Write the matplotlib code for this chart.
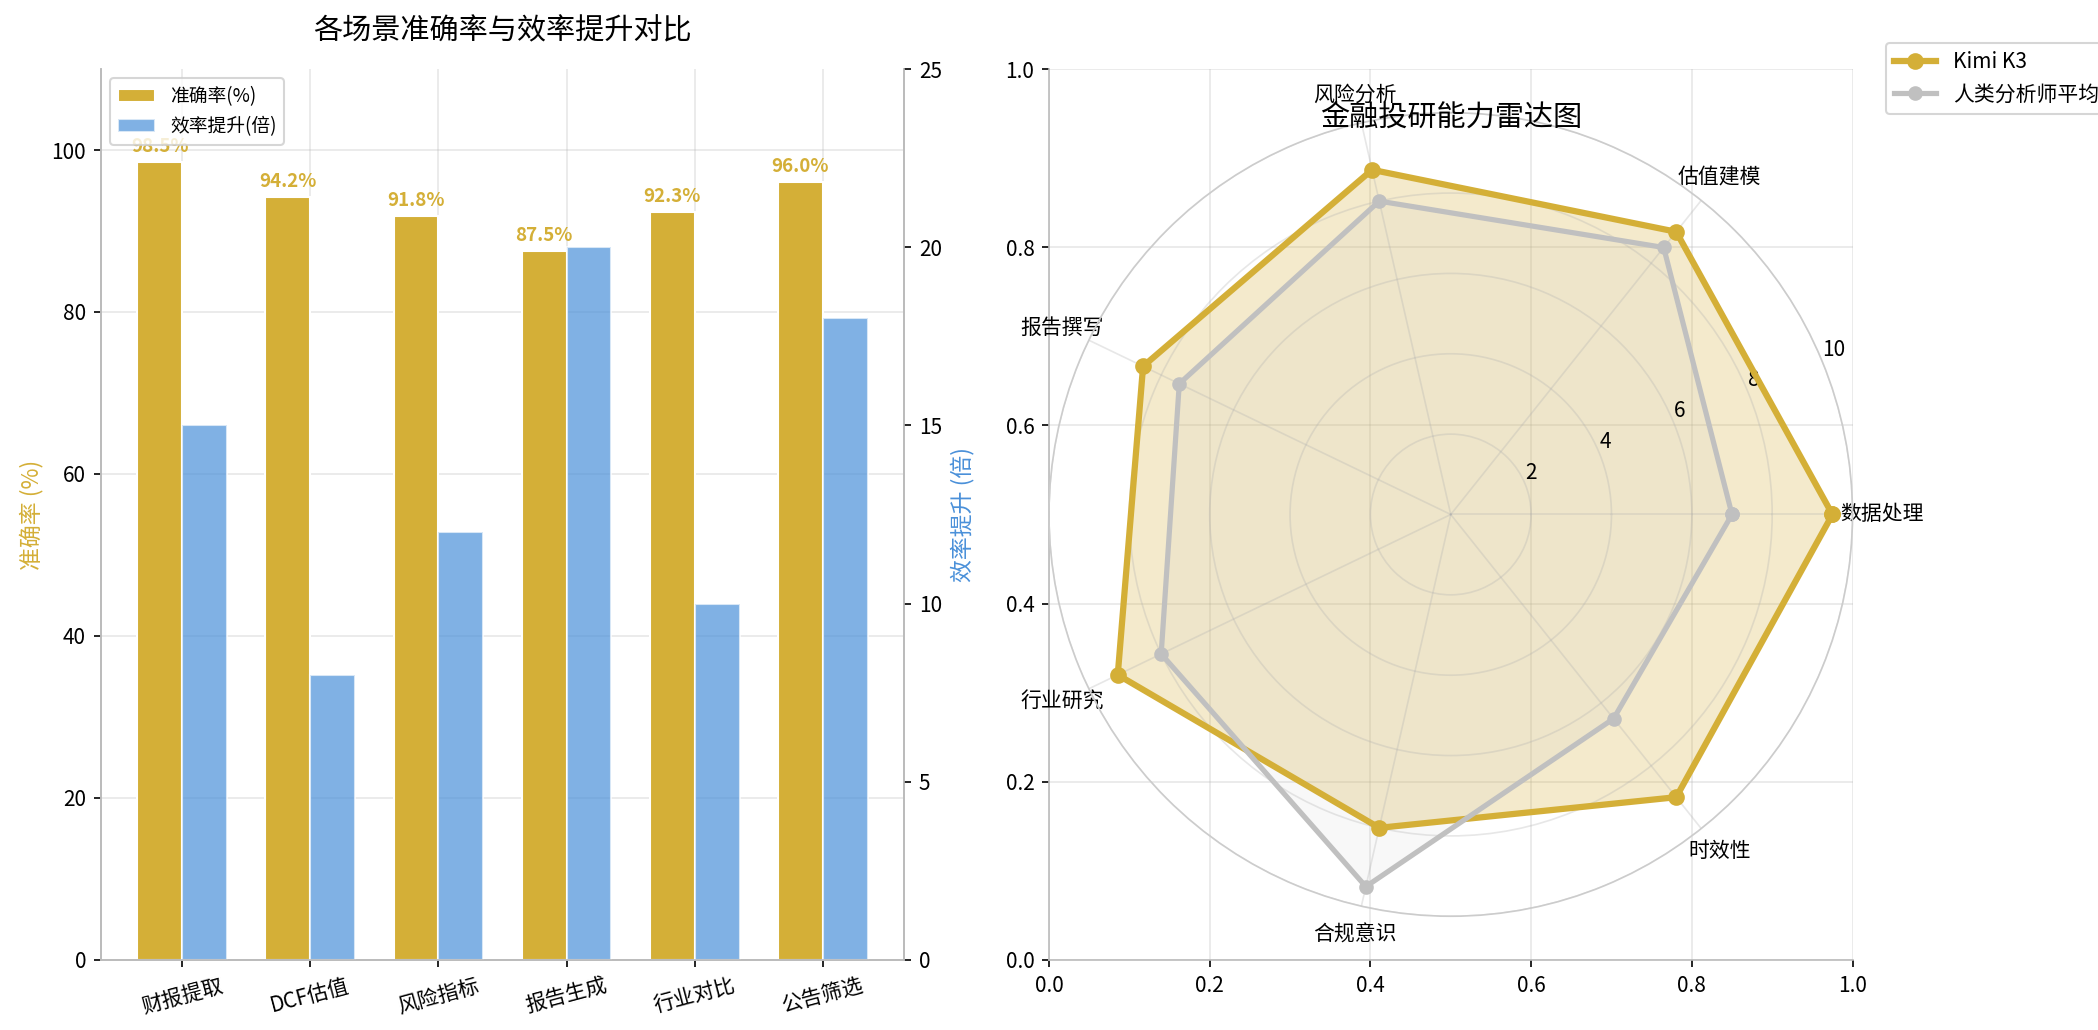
import numpy as np
import matplotlib
matplotlib.use("Agg")
import matplotlib.pyplot as plt

plt.rcParams['font.family'] = ['Noto Sans CJK SC', 'DejaVu Sans']
plt.rcParams['axes.unicode_minus'] = False

scenes = ['财报提取', 'DCF估值', '风险指标', '报告生成', '行业对比', '公告筛选']
accuracy = [98.5, 94.2, 91.8, 87.5, 92.3, 96.0]
efficiency = [15, 8, 12, 20, 10, 18]

dims = ['数据处理', '估值建模', '风险分析', '报告撰写', '行业研究', '合规意识', '时效性']
kimi = [9.5, 9.0, 8.8, 8.5, 9.2, 8.0, 9.0]
human = [7.0, 8.5, 8.0, 7.5, 8.0, 9.5, 6.5]

gold = '#D4AF37'
blue = '#4A90D9'

fig = plt.figure(figsize=(2098/150, 1030/150), dpi=150)

ax1 = fig.add_axes([0.048, 0.068, 0.383, 0.865])
x = np.arange(len(scenes))
w = 0.35
b1 = ax1.bar(x - w/2, accuracy, w, color=gold, edgecolor='white', label='准确率(%)')
ax1.set_ylim(0, 110)
ax1.set_ylabel('准确率 (%)', color=gold, fontsize=11)
ax1.set_xticks(x)
ax1.set_xticklabels(scenes, rotation=15)
ax1.grid(True, alpha=0.3)
ax1.set_axisbelow(True)
for xi, v in zip(x, accuracy):
    ax1.text(xi - w/2, v + 0.8, f'{v}%', ha='center', va='bottom', color=gold,
             fontsize=9, fontweight='bold')
ax2 = ax1.twinx()
b2 = ax2.bar(x + w/2, efficiency, w, color=blue, alpha=0.7, edgecolor='white', label='效率提升(倍)')
ax2.set_ylim(0, 25)
ax2.set_ylabel('效率提升 (倍)', color=blue, fontsize=11)
for a in (ax1, ax2):
    a.spines['top'].set_visible(False)
    for s in a.spines.values():
        s.set_color('#BBBBBB')
ax1.set_title('各场景准确率与效率提升对比', fontsize=14, pad=14)
ax1.legend([b1, b2], ['准确率(%)', '效率提升(倍)'], loc='upper left', fontsize=9)

# cartesian background axes
axc = fig.add_axes([0.5, 0.068, 0.383, 0.865])
axc.grid(True, alpha=0.3)
axc.set_xlim(0, 1); axc.set_ylim(0, 1)
axc.spines['top'].set_visible(False)
axc.spines['right'].set_visible(False)
for s in axc.spines.values():
    s.set_color('#BBBBBB')

axp = fig.add_axes([0.5, 0.068, 0.383, 0.865], projection='polar')
axp.patch.set_alpha(0)
ang = np.linspace(0, 2*np.pi, len(dims), endpoint=False).tolist()
ang_c = ang + ang[:1]
k = kimi + kimi[:1]
h = human + human[:1]
axp.plot(ang_c, k, 'o-', color=gold, lw=3, ms=7, label='Kimi K3')
axp.fill(ang_c, k, color=gold, alpha=0.25)
axp.plot(ang_c, h, 'o-', color='#C0C0C0', lw=2.5, ms=6, label='人类分析师平均')
axp.fill(ang_c, h, color='#C0C0C0', alpha=0.1)
axp.set_xticks(ang)
axp.set_xticklabels(dims, fontsize=10)
axp.set_ylim(0, 10)
axp.set_yticks([2, 4, 6, 8, 10])
axp.grid(True, alpha=0.3)
axp.spines['polar'].set_color('#CCCCCC')
axp.set_title('金融投研能力雷达图', fontsize=14, y=1.0, pad=-6)
axp.legend(loc='upper right', bbox_to_anchor=(1.33, 1.1), fontsize=10)

fig.savefig('out.png', dpi=150)
